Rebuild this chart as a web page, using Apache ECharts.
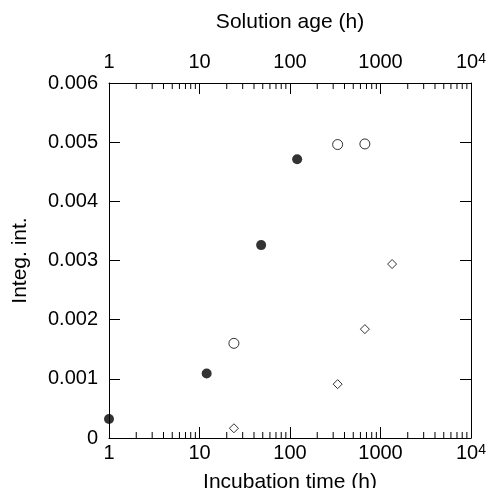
<!DOCTYPE html>
<html>
<head>
<meta charset="utf-8">
<script src="https://cdn.jsdelivr.net/npm/echarts@6/dist/echarts.min.js"></script>
<style>
  html, body { margin: 0; padding: 0; background: #fff; }
  #chart { width: 487px; height: 488px; }
</style>
</head>
<body>
<div id="chart"></div>
<script>
// incubation time series (filled circles)
const filledX = [1, 12, 48, 120];
const filledY = [0.00032, 0.00109, 0.00326, 0.00471];
// solution age series (open circles)
const openX = [24, 336, 672];
const openY = [0.0016, 0.00496, 0.00497];
// solution age series (diamonds)
const diamondX = [24, 336, 672, 1344];
const diamondY = [0.000164, 0.00091, 0.00184, 0.00294];
// minor ticks on the log axes
const minorTicks = [2, 3, 4, 5, 6, 7, 8, 9, 20, 30, 40, 50, 60, 70, 80, 90,
  200, 300, 400, 500, 600, 700, 800, 900, 2000, 3000, 4000, 5000, 6000, 7000, 8000, 9000];

const font = "'Liberation Sans', Arial, sans-serif";

const pairs = (xs, ys) => xs.map((x, i) => [x, ys[i]]);

const logLabel = {
  fontFamily: font,
  fontSize: 20,
  color: "#000",
  showMinLabel: true,
  showMaxLabel: true,
  formatter: function (v) {
    if (v >= 10000) return "10{sup|4}";
    return String(Math.round(v));
  },
  rich: {
    sup: { fontFamily: font, fontSize: 14, color: "#000", verticalAlign: "top", lineHeight: 10, padding: [0, 0, 10, 0] },
  },
};

const logAxis = (pos, name, gap, margin) => ({
  type: "log",
  logBase: 10,
  position: pos,
  min: 1,
  max: 10000,
  name: name,
  nameLocation: "middle",
  nameGap: gap,
  nameTextStyle: { fontFamily: font, fontSize: 21, color: "#000" },
  axisLine: { show: true, onZero: false, lineStyle: { color: "#000", width: 1 } },
  axisTick: { show: true, inside: true, length: 11, lineStyle: { color: "#000" } },
  axisLabel: Object.assign({}, logLabel, { margin: margin }),
  splitLine: { show: false },
});

const chart = echarts.init(document.getElementById("chart"), null, { renderer: "canvas" });

chart.setOption({
  animation: false,
  backgroundColor: "#fff",
  grid: { left: 109, right: 16, top: 83, bottom: 50, containLabel: false, outerBoundsMode: "none" },
  xAxis: [
    logAxis("bottom", "Incubation time (h)", 27, 5),
    logAxis("top", "Solution age (h)", 50, 11),
  ],
  yAxis: [
    {
      type: "value",
      position: "left",
      min: 0,
      max: 0.006,
      interval: 0.001,
      name: "Integ. int.",
      nameLocation: "middle",
      nameGap: 78,
      nameTextStyle: { fontFamily: font, fontSize: 21, color: "#000" },
      axisLine: { show: true, onZero: false, lineStyle: { color: "#000", width: 1 } },
      axisTick: { show: true, inside: true, length: 11, lineStyle: { color: "#000" } },
      axisLabel: { fontFamily: font, fontSize: 20, color: "#000", margin: 11 },
      splitLine: { show: false },
    },
    {
      type: "value",
      position: "right",
      min: 0,
      max: 0.006,
      interval: 0.001,
      axisLine: { show: true, onZero: false, lineStyle: { color: "#000", width: 1 } },
      axisTick: { show: true, inside: true, length: 11, lineStyle: { color: "#000" } },
      axisLabel: { show: false },
      splitLine: { show: false },
    },
  ],
  series: [
    {
      type: "custom",
      silent: true,
      xAxisIndex: 0,
      yAxisIndex: 0,
      data: minorTicks.map((v) => [v]),
      renderItem: function (params, api) {
        const v = api.value(0);
        const b = api.coord([v, 0]);
        const t = api.coord([v, 0.006]);
        const style = { stroke: "#000", lineWidth: 1 };
        return {
          type: "group",
          children: [
            { type: "line", shape: { x1: b[0], y1: b[1], x2: b[0], y2: b[1] - 6 }, style: style },
            { type: "line", shape: { x1: t[0], y1: t[1], x2: t[0], y2: t[1] + 6 }, style: style },
          ],
        };
      },
    },
    {
      name: "Incubation",
      type: "scatter",
      xAxisIndex: 0,
      yAxisIndex: 0,
      symbol: "circle",
      symbolSize: 10,
      itemStyle: { color: "#000" },
      data: pairs(filledX, filledY),
      z: 3,
    },
    {
      name: "Solution age A",
      type: "scatter",
      xAxisIndex: 1,
      yAxisIndex: 0,
      symbol: "circle",
      symbolSize: 10,
      itemStyle: { color: "#fff", borderColor: "#000", borderWidth: 1 },
      data: pairs(openX, openY),
      z: 3,
    },
    {
      name: "Solution age B",
      type: "scatter",
      xAxisIndex: 1,
      yAxisIndex: 0,
      symbol: "diamond",
      symbolSize: 9,
      itemStyle: { color: "#fff", borderColor: "#000", borderWidth: 1 },
      data: pairs(diamondX, diamondY),
      z: 3,
    },
  ],
});
</script>
</body>
</html>
